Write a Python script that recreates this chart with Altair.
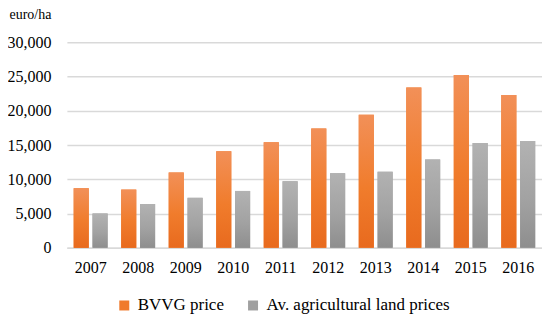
import altair as alt
import pandas as pd

years = ["2007", "2008", "2009", "2010", "2011", "2012", "2013", "2014", "2015", "2016"]
bvvg = [8700, 8500, 11000, 14100, 15400, 17400, 19400, 23400, 25200, 22300]
avg = [5000, 6400, 7300, 8300, 9700, 10900, 11100, 12900, 15300, 15600]
series = ["BVVG price", "Av. agricultural land prices"]

rows = []
for y, b, a in zip(years, bvvg, avg):
    rows.append({"year": y, "series": series[0], "value": b})
    rows.append({"year": y, "series": series[1], "value": a})
df = pd.DataFrame(rows)

FONT = "Liberation Serif"

x = alt.X("year:N", sort=years, title=None,
          scale=alt.Scale(paddingInner=0.286, paddingOuter=0.143),
          axis=alt.Axis(labelAngle=0, ticks=False, labelPadding=12, labelFontSize=16,
                        labelFont=FONT, labelColor="#000000", domainColor="#D9D9D9",
                        domainWidth=1.5, grid=False))
xo = alt.XOffset("series:N", sort=series,
                 scale=alt.Scale(domain=series, paddingInner=0.2, paddingOuter=0))
y = alt.Y("value:Q", title="euro/ha",
          scale=alt.Scale(domain=[0, 30000]),
          axis=alt.Axis(values=[0, 5000, 10000, 15000, 20000, 25000, 30000], format=",.0f",
                        ticks=False, domain=False, labelPadding=16, labelFontSize=16,
                        labelFont=FONT, labelColor="#000000", gridColor="#D9D9D9",
                        gridWidth=1.5, titleAngle=0, titleAlign="left", titleBaseline="alphabetic",
                        titleX=-58, titleY=-24, titleFont=FONT, titleFontSize=14,
                        titleFontWeight="normal", titleColor="#000000"))

base = alt.Chart(df).encode(x=x, xOffset=xo, y=y)

legend_layer = base.mark_bar().encode(
    color=alt.Color("series:N", sort=series,
                    scale=alt.Scale(domain=series, range=["#F07A2C", "#A0A0A0"]),
                    legend=alt.Legend(title=None, orient="none", direction="horizontal",
                                      legendX=49, legendY=255, symbolType="square",
                                      symbolSize=100, symbolStrokeWidth=0,
                                      labelFont=FONT, labelFontSize=17, labelColor="#000000",
                                      labelLimit=400, labelOffset=5, columnPadding=20))
)

orange = alt.Gradient(gradient="linear", x1=0, x2=0, y1=0, y2=1,
                      stops=[alt.GradientStop(color="#F29058", offset=0),
                             alt.GradientStop(color="#F07C2C", offset=0.55),
                             alt.GradientStop(color="#E86A1E", offset=1)])
gray = alt.Gradient(gradient="linear", x1=0, x2=0, y1=0, y2=1,
                    stops=[alt.GradientStop(color="#B2B2B2", offset=0),
                           alt.GradientStop(color="#A2A2A2", offset=0.55),
                           alt.GradientStop(color="#8E8E8E", offset=1)])

o_layer = base.transform_filter(alt.datum.series == series[0]).mark_bar(fill=orange)
g_layer = base.transform_filter(alt.datum.series == series[1]).mark_bar(fill=gray)

chart = alt.layer(legend_layer, o_layer, g_layer).properties(
    width=476, height=206,
    autosize=alt.AutoSizeParams(type="none"),
    padding={"left": 59, "top": 34, "right": 0, "bottom": 68},
).configure_view(stroke=None).configure_axis(titleFont=FONT, labelFont=FONT)

chart.save("out.html", embed_options={"renderer": "svg", "actions": False})
